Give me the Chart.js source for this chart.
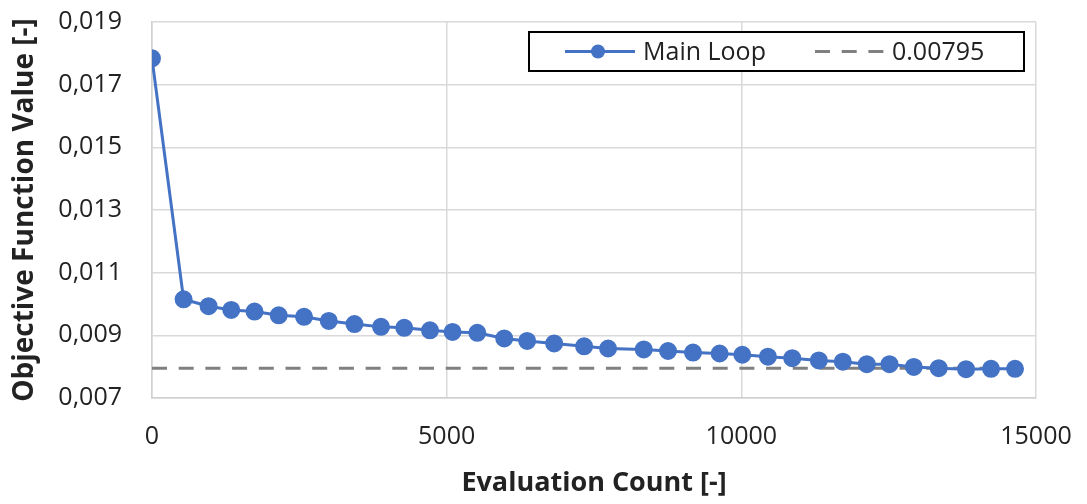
<!DOCTYPE html>
<html>
<head>
<meta charset="utf-8">
<script src="https://cdn.jsdelivr.net/npm/chart.js@4/dist/chart.umd.min.js"></script>
<style>
  html, body { margin: 0; padding: 0; background: #fff; }
  #wrap { width: 1087px; height: 504px; }
</style>
</head>
<body>
<div id="wrap"><canvas id="chart" width="1087" height="504"></canvas></div>
<script>
// ---- data ----
const evalCounts = [0, 536, 960, 1345, 1740, 2150, 2580, 3000, 3435, 3886, 4280, 4717,
  5100, 5520, 5977, 6366, 6824, 7332, 7739, 8344, 8756, 9180, 9632, 10017, 10451,
  10864, 11315, 11722, 12129, 12514, 12926, 13349, 13813, 14237, 14644];
const objValues = [0.01784, 0.01015, 0.00993, 0.00981, 0.00976, 0.00964, 0.00959, 0.00946,
  0.00936, 0.00927, 0.00924, 0.00916, 0.00911, 0.00908, 0.0089, 0.00882, 0.00874, 0.00865,
  0.00858, 0.00855, 0.0085, 0.00845, 0.00842, 0.00838, 0.00832, 0.00827, 0.0082, 0.00816,
  0.00808, 0.00808, 0.00799, 0.00795, 0.00792, 0.00793, 0.00793];
const targetValue = 0.00795;
const targetRange = [0, 14644];
const seriesNames = ["Main Loop", "0.00795"];

const BLUE = "#4472C4";
const GRAY = "#808080";
const FONT = "'Open Sans', sans-serif";

const mainPoints = evalCounts.map((x, i) => ({ x, y: objValues[i] }));
const targetPoints = targetRange.map(x => ({ x, y: targetValue }));

// legend drawn inside the plot, top right
const insideLegend = {
  id: "insideLegend",
  afterDraw(chart) {
    const ctx = chart.ctx;
    const bx = 529, by = 32, bw = 495, bh = 39;
    const cy = by + bh / 2;
    ctx.save();
    ctx.fillStyle = "#fff";
    ctx.fillRect(bx, by, bw, bh);
    ctx.strokeStyle = "#000";
    ctx.lineWidth = 2;
    ctx.strokeRect(bx, by, bw, bh);

    // main loop sample
    ctx.strokeStyle = BLUE;
    ctx.lineWidth = 3;
    ctx.beginPath();
    ctx.moveTo(565, cy);
    ctx.lineTo(635, cy);
    ctx.stroke();
    ctx.fillStyle = BLUE;
    ctx.beginPath();
    ctx.arc(598, cy, 7, 0, Math.PI * 2);
    ctx.fill();

    // target sample
    ctx.strokeStyle = GRAY;
    ctx.setLineDash([15, 11.7]);
    ctx.beginPath();
    ctx.moveTo(815, cy);
    ctx.lineTo(884, cy);
    ctx.stroke();
    ctx.setLineDash([]);

    ctx.fillStyle = "#222";
    ctx.font = "25px " + FONT;
    ctx.textBaseline = "middle";
    ctx.fillText(chart.data.datasets[0].label, 643, cy + 1);
    ctx.fillText(chart.data.datasets[1].label, 892, cy + 1);
    ctx.restore();
  }
};

new Chart(document.getElementById("chart"), {
  type: "scatter",
  data: {
    datasets: [
      {
        label: seriesNames[0],
        data: mainPoints,
        showLine: true,
        borderColor: BLUE,
        backgroundColor: BLUE,
        borderWidth: 3,
        pointRadius: 7.5,
        pointHoverRadius: 7.5,
        order: 1
      },
      {
        label: seriesNames[1],
        data: targetPoints,
        showLine: true,
        borderColor: GRAY,
        backgroundColor: GRAY,
        borderWidth: 3,
        borderDash: [15, 11.7],
        pointRadius: 0,
        order: 2
      }
    ]
  },
  options: {
    responsive: false,
    animation: false,
    layout: { padding: { top: 22, right: 51, left: 0, bottom: 0 } },
    plugins: {
      legend: { display: false },
      tooltip: { enabled: false }
    },
    scales: {
      x: {
        type: "linear",
        min: 0,
        max: 15000,
        afterFit: s => {
          s.height = 106;
          s.paddingLeft = 0;
          s.paddingRight = 0;
        },
        ticks: {
          stepSize: 5000,
          padding: 24,
          color: "#222",
          font: { family: FONT, size: 25 },
          maxRotation: 0,
          callback: v => String(v)
        },
        grid: { color: "#d9d9d9", lineWidth: 1.5, drawTicks: false },
        border: { color: "#d0d0d0", width: 1.5 },
        title: {
          display: true,
          text: "Evaluation Count [-]",
          color: "#222",
          font: { family: FONT, size: 27, weight: "bold" },
          padding: { top: 6 }
        }
      },
      y: {
        min: 0.007,
        max: 0.019,
        afterFit: s => {
          s.width = 152;
          s.paddingTop = 0;
          s.paddingBottom = 0;
        },
        ticks: {
          stepSize: 0.002,
          padding: 30,
          color: "#222",
          font: { family: FONT, size: 25 },
          callback: v => v.toFixed(3).replace(".", ",")
        },
        grid: { color: "#d9d9d9", lineWidth: 1.5, drawTicks: false },
        border: { color: "#d0d0d0", width: 1.5 },
        title: {
          display: true,
          text: "Objective Function Value [-]",
          color: "#222",
          font: { family: FONT, size: 28, weight: "bold" },
          padding: { top: 8, bottom: 0 }
        }
      }
    }
  },
  plugins: [insideLegend]
});
</script>
</body>
</html>
